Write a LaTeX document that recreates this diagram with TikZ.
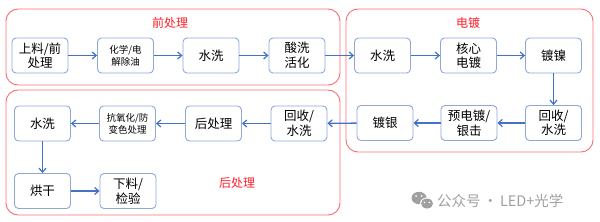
\documentclass[tikz,border=0pt]{standalone}
\usepackage{fontspec}
\setmainfont{Noto Sans CJK SC}
\usetikzlibrary{arrows.meta}
\definecolor{grpred}{RGB}{250,110,115}
\definecolor{ttlred}{RGB}{255,30,40}
\definecolor{boxblue}{RGB}{143,168,218}
\definecolor{arrblue}{RGB}{68,114,196}
\definecolor{wmgray}{RGB}{160,160,160}
\begin{document}
\begin{tikzpicture}[x=1pt,y=-1pt,
  stepbox/.style={draw=boxblue,line width=0.9pt,rounded corners=4pt,minimum width=56pt,minimum height=35pt,inner sep=1pt,align=center,font=\fontsize{12.5}{14.5}\selectfont},
  smallbox/.style={stepbox,font=\fontsize{9.5}{12}\selectfont},
  grp/.style={draw=grpred,line width=0.9pt,rounded corners=12pt},
  ttl/.style={text=ttlred,font=\fontsize{12}{14}\selectfont},
  conn/.style={draw=arrblue,line width=1.4pt,-{Straight Barb[length=4pt,width=7pt,line width=1.2pt]}}]
\useasboundingbox (0,0) rectangle (600,222);
% groups
\draw[grp] (6,9) rectangle (340,85);
\draw[grp] (346,9) rectangle (593,152);
\draw[grp] (6,90) rectangle (340,215);
\node[ttl] (t1) at (170,23) {前处理};
\node[ttl] (t2) at (468,23) {电镀};
\node[ttl] (t3) at (237,183) {后处理};
% row 1
\node[stepbox] (a1) at (40,55.5) {上料/前\\处理};
\node[smallbox] (a2) at (125.5,55.5) {化学/电\\解除油};
\node[stepbox] (a3) at (211,55.5) {水洗};
\node[stepbox] (a4) at (297,55.5) {酸洗\\活化};
\node[stepbox] (b1) at (382.5,55.5) {水洗};
\node[stepbox] (b2) at (468.5,55.5) {核心\\电镀};
\node[stepbox] (b3) at (553.5,55.5) {镀镍};
% row 2
\node[stepbox] (b4) at (553.5,123) {回收/\\水洗};
\node[stepbox] (b5) at (469,123) {预电镀/\\银击};
\node[stepbox] (b6) at (385,123) {镀银};
\node[stepbox] (c1) at (299,123.5) {回收/\\水洗};
\node[stepbox] (c2) at (213.5,123.5) {后处理};
\node[smallbox] (c3) at (127.5,123.5) {抗氧化/防\\变色处理};
\node[stepbox] (c4) at (42.5,123.5) {水洗};
% row 3
\node[stepbox] (c5) at (42.5,191) {烘干};
\node[stepbox] (c6) at (128,191) {下料/\\检验};
% connectors
\draw[conn] (a1) -- (a2);
\draw[conn] (a2) -- (a3);
\draw[conn] (a3) -- (a4);
\draw[conn] (a4) -- (b1);
\draw[conn] (b1) -- (b2);
\draw[conn] (b2) -- (b3);
\draw[conn] (b3) -- (b4);
\draw[conn] (b4) -- (b5);
\draw[conn] (b5) -- (b6);
\draw[conn] (b6) -- (c1);
\draw[conn] (c1) -- (c2);
\draw[conn] (c2) -- (c3);
\draw[conn] (c3) -- (c4);
\draw[conn] (c4) -- (c5);
\draw[conn] (c5) -- (c6);
% watermark
\fill[wmgray] (419,198) ellipse (7.5pt and 6.2pt);
\fill[white] (427,203.5) ellipse (7pt and 6pt);
\fill[wmgray] (427,203.5) ellipse (6pt and 5pt);
\fill[white] (416,196) circle (1pt) (421.5,196) circle (1pt);
\fill[white] (424.5,202.5) circle (0.9pt) (429.5,202.5) circle (0.9pt);
\node[text=wmgray,anchor=west,inner sep=0pt,font=\fontsize{14.5}{16}\selectfont] (wm) at (437,201) {公众号\,·\,LED+光学};
\end{tikzpicture}
\end{document}
